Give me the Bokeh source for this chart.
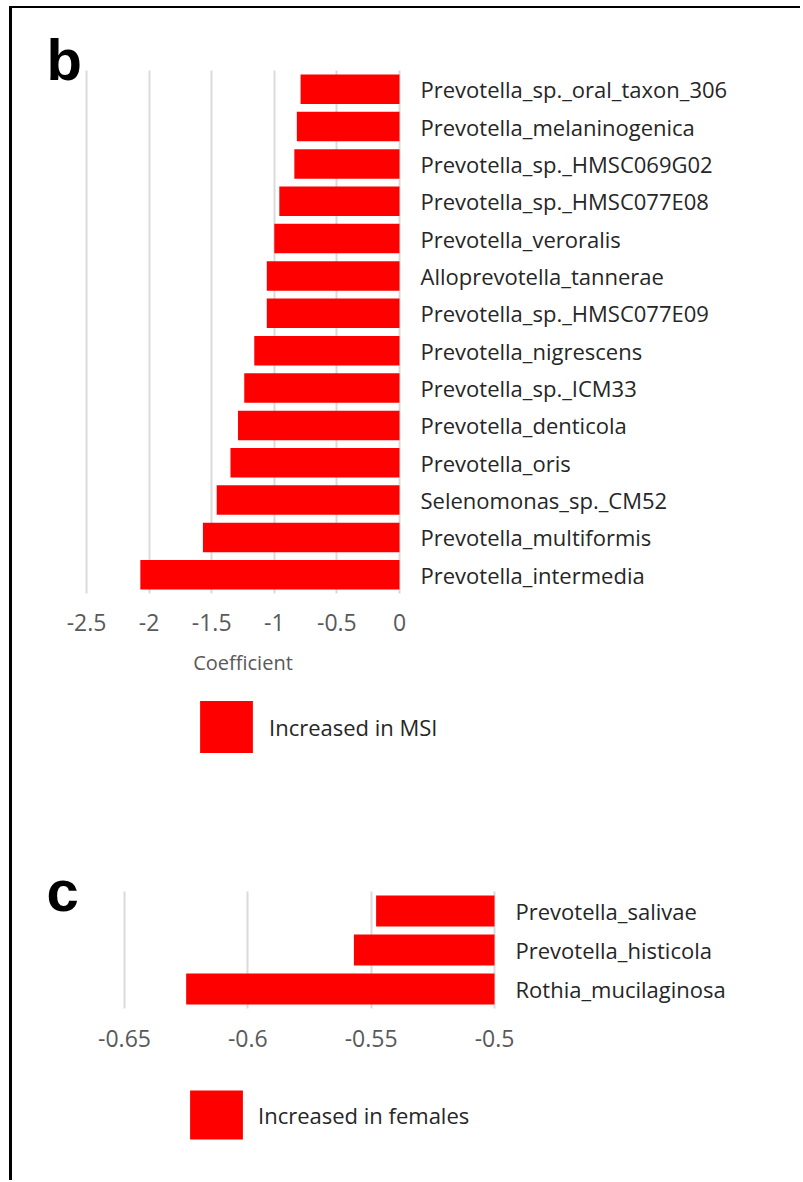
from bokeh.plotting import figure
from bokeh.models import (Range1d, FixedTicker, NumeralTickFormatter,
                          Legend, LegendItem, Label)
from bokeh.embed import file_html
from bokeh.resources import INLINE

# Panel b: taxa increased in MSI (regression coefficients), top to bottom
taxa_msi = [
    "Prevotella_sp._oral_taxon_306",
    "Prevotella_melaninogenica",
    "Prevotella_sp._HMSC069G02",
    "Prevotella_sp._HMSC077E08",
    "Prevotella_veroralis",
    "Alloprevotella_tannerae",
    "Prevotella_sp._HMSC077E09",
    "Prevotella_nigrescens",
    "Prevotella_sp._ICM33",
    "Prevotella_denticola",
    "Prevotella_oris",
    "Selenomonas_sp._CM52",
    "Prevotella_multiformis",
    "Prevotella_intermedia",
]
coef_msi = [-0.79, -0.82, -0.84, -0.96, -1.00, -1.06, -1.06,
            -1.16, -1.24, -1.29, -1.35, -1.46, -1.57, -2.07]
ticks_msi = [-2.5, -2.0, -1.5, -1.0, -0.5, 0.0]

# Panel c: taxa increased in females, top to bottom
taxa_fem = ["Prevotella_salivae", "Prevotella_histicola", "Rothia_mucilaginosa"]
coef_fem = [-0.548, -0.557, -0.625]
ticks_fem = [-0.65, -0.60, -0.55, -0.50]

FONT = "Open Sans"
RED = "#ff0000"
GRID = "#dadada"
TICK_COLOR = "#595959"
LABEL_COLOR = "#262626"
TOTAL_W = 791


def bar_panel(names, values, ticks, fmt, px_per_unit, base_px, frame_right, label_x,
              band_top, band_bottom, height, bottom_border, axis_drop, tick_standoff,
              letter, letter_xy, legend_text, legend_xy, glyph_w, glyph_h,
              legend_standoff, bar_h, axis_title=None, styles=None):
    """Horizontal bar panel; all pixel arguments are in the figure's own canvas."""
    n = len(names)
    base = max(ticks)                            # bars grow leftwards from the axis end
    rows = list(range(n - 1, -1, -1))           # first taxon on top
    pitch = (band_bottom - band_top) / n         # pixels per row
    frame_bottom = height - bottom_border
    x_range = Range1d(base - base_px / px_per_unit,
                      base + (frame_right - base_px) / px_per_unit)
    y_range = Range1d(-0.5 - (frame_bottom - band_bottom) / pitch,
                      n - 0.5 + band_top / pitch)

    p = figure(width=TOTAL_W, height=height, x_range=x_range, y_range=y_range,
               y_axis_location="right", output_backend="svg", toolbar_location=None,
               min_border_left=0, min_border_top=0,
               min_border_right=TOTAL_W - frame_right,
               min_border_bottom=bottom_border)
    p.outline_line_color = None
    p.background_fill_color = "white"
    p.border_fill_color = "white"
    if styles:
        p.styles = styles

    r = p.hbar(y=rows, left=values, right=base, height=bar_h,
               fill_color=RED, line_color=None)

    p.ygrid.grid_line_color = None
    p.xgrid.grid_line_color = GRID
    p.xgrid.grid_line_width = 2
    p.xgrid.ticker = FixedTicker(ticks=ticks)
    p.xgrid.cross_bounds = (-0.5, n - 0.5)

    xa = p.xaxis[0]
    xa.ticker = FixedTicker(ticks=ticks)
    xa.formatter = NumeralTickFormatter(format=fmt)
    xa.bounds = (min(ticks), max(ticks))
    xa.fixed_location = -0.5 - axis_drop / pitch
    xa.axis_line_color = None
    xa.major_tick_line_color = None
    xa.minor_tick_line_color = None
    xa.major_tick_out = 0
    xa.major_tick_in = 0
    xa.major_label_standoff = tick_standoff
    xa.major_label_text_font = FONT
    xa.major_label_text_font_size = "23px"
    xa.major_label_text_color = TICK_COLOR
    if axis_title:
        xa.axis_label = axis_title
        xa.axis_label_text_font = FONT
        xa.axis_label_text_font_size = "20px"
        xa.axis_label_text_font_style = "normal"
        xa.axis_label_text_color = TICK_COLOR
        xa.axis_label_standoff = 15

    ya = p.yaxis[0]
    ya.ticker = FixedTicker(ticks=rows)
    ya.major_label_overrides = {row: name for row, name in zip(rows, names)}
    ya.axis_line_color = None
    ya.major_tick_line_color = None
    ya.minor_tick_line_color = None
    ya.major_tick_out = 0
    ya.major_tick_in = 0
    ya.major_label_standoff = label_x - frame_right
    ya.major_label_text_font = FONT
    ya.major_label_text_font_size = "22px"
    ya.major_label_text_color = LABEL_COLOR

    legend = Legend(items=[LegendItem(label=legend_text, renderers=[r])],
                    location=legend_xy, glyph_width=glyph_w, glyph_height=glyph_h,
                    label_standoff=legend_standoff, padding=0, margin=0, spacing=0,
                    border_line_color=None, background_fill_alpha=0,
                    label_text_font=FONT, label_text_font_size="22px",
                    label_text_color=LABEL_COLOR)
    p.add_layout(legend)

    p.add_layout(Label(x=letter_xy[0], y=letter_xy[1], x_units="screen", y_units="screen",
                       text=letter, text_font="Liberation Sans", text_font_style="bold",
                       text_font_size="58px", text_color="black",
                       text_baseline="alphabetic"))
    return p


# panel b canvas spans page y 8..860, x 12..803
p_b = bar_panel(taxa_msi, coef_msi, ticks_msi, "0.[0]",
                px_per_unit=125.2, base_px=387, frame_right=438, label_x=408,
                band_top=62, band_bottom=585, height=852, bottom_border=85,
                axis_drop=0, tick_standoff=20,
                letter="b", letter_xy=(34, 716),
                legend_text="Increased in MSI", legend_xy=(181, 16),
                glyph_w=66, glyph_h=65, legend_standoff=10,
                bar_h=0.79, axis_title="Coefficient",
                styles={"margin": "6px 0 0 9px",
                        "border-top": "2px solid #000",
                        "border-left": "3px solid #000"})

# panel c canvas spans page y 860..1182
p_c = bar_panel(taxa_fem, coef_fem, ticks_fem, "0.0[0]",
                px_per_unit=2466.7, base_px=482, frame_right=508, label_x=503,
                band_top=33, band_bottom=150, height=322, bottom_border=34,
                axis_drop=16, tick_standoff=5,
                letter="c", letter_xy=(34, 256),
                legend_text="Increased in females", legend_xy=(171, 1),
                glyph_w=66, glyph_h=61, legend_standoff=9,
                bar_h=0.8,
                styles={"margin": "0 0 0 9px",
                        "border-left": "3px solid #000"})

open("out.html", "w").write(file_html([p_b, p_c], INLINE))
